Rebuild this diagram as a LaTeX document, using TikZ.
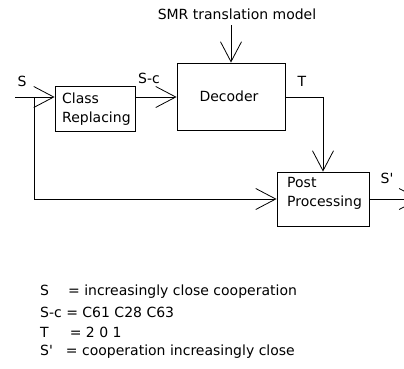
\documentclass[tikz,border=0pt]{standalone}
\usepackage{fontspec}
\setmainfont{DejaVu Sans}
\usetikzlibrary{arrows.meta}
\begin{document}
\begin{tikzpicture}[x=1pt,y=-1pt,
  blk/.style={draw,line width=0.8pt,inner sep=0pt},
  lbl/.style={inner sep=0pt,font=\fontsize{14}{19}\selectfont},
  conn/.style={line width=0.8pt,-{Straight Barb[length=20pt,width=21pt,line width=0.8pt]}},
  wire/.style={line width=0.8pt}]
\useasboundingbox (0,0) rectangle (404,368);
% boxes
\node[blk,minimum width=80pt,minimum height=45pt] (cr) at (95,108.5) {};
\node[lbl,anchor=west,align=left] (crt) at (62,109) {Class\\Replacing};
\node[blk,minimum width=108pt,minimum height=67pt] (dec) at (231,96.5) {};
\node[lbl] (dect) at (229,96) {Decoder};
\node[blk,minimum width=92pt,minimum height=54pt] (pp) at (323,199) {};
\node[lbl,anchor=west,align=left] (ppt) at (287,193) {Post\\Processing};
% labels
\node[lbl] (smr) at (237,14) {SMR translation model};
\node[lbl] (ls) at (22,81) {S};
\node[lbl] (lsc) at (149,78) {S-c};
\node[lbl] (lt) at (302,81) {T};
\node[lbl] (lsp) at (387,178) {S\textquotesingle};
% coordinates
\coordinate (sin) at (15,97);
\coordinate (br) at (34,97);
\coordinate (brd) at (34,199);
\coordinate (tk) at (323,97);
\coordinate (out) at (420,199);
\coordinate (smrb) at (231,25);
% connectors
\draw[conn] (sin) -- (sin -| cr.west);
\draw[wire] (br) -- (brd);
\draw[conn] (brd) -- (brd -| pp.west);
\draw[conn] (cr.east |- 0,97) -- (dec.west |- 0,97);
\draw[wire] (dec.east |- 0,97) -- (tk);
\draw[conn] (tk) -- (tk |- pp.north);
\draw[conn] (smrb) -- (smrb |- dec.north);
\draw[conn] (pp.east |- 0,199) -- (out);
% legend
\node[lbl,anchor=west] (l1) at (40,292) {S\hspace{19pt}= increasingly close cooperation};
\node[lbl,anchor=west] (l2) at (40,312) {S-c = C61 C28 C63};
\node[lbl,anchor=west] (l3) at (40,332) {T\hspace{21pt}= 2 0 1};
\node[lbl,anchor=west] (l4) at (40,352) {S\textquotesingle\hspace{13pt}= cooperation increasingly close};
\end{tikzpicture}
\end{document}
